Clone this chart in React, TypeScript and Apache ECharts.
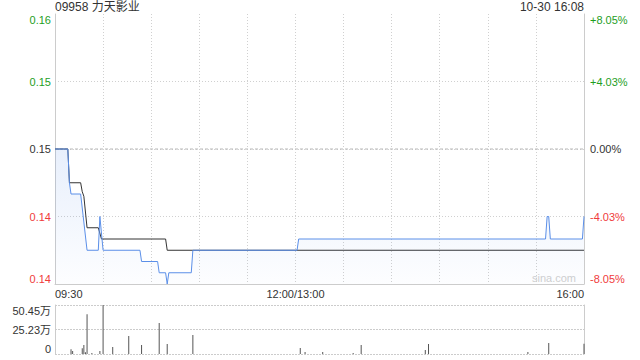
import React, { useEffect, useRef } from "react";
import * as echarts from "echarts";

const titleText = "09958 力天影业";
const stampText = "10-30 16:08";
const watermark = "sina.com";
const prevClose = 0.149;
const priceMin = 0.137;
const priceMax = 0.161;
const priceStep = 0.006;

const priceTimes = ["09:30", "09:38", "09:39", "09:40", "09:46", "09:50", "09:57", "09:58", "10:00", "10:23", "10:24", "10:34", "10:35", "10:39", "10:40", "10:41", "10:55", "10:56", "13:01", "13:02", "15:36", "15:37", "15:38", "15:39", "15:59", "16:00"];
const priceValues = [0.149, 0.149, 0.146, 0.145, 0.145, 0.14, 0.14, 0.143, 0.14, 0.14, 0.139, 0.139, 0.138, 0.138, 0.137, 0.138, 0.138, 0.14, 0.14, 0.141, 0.141, 0.143, 0.143, 0.141, 0.141, 0.143];

const avgTimes = ["09:30", "09:38", "09:39", "09:46", "09:47", "09:48", "09:50", "09:57", "09:59", "10:39", "10:40", "16:00"];
const avgValues = [0.149, 0.149, 0.146, 0.146, 0.1452, 0.1448, 0.142, 0.142, 0.141, 0.141, 0.14, 0.14];

const volTimes = ["09:40", "09:41", "09:47", "09:48", "09:49", "09:50", "09:53", "09:58", "10:00", "10:06", "10:16", "10:24", "10:35", "10:40", "10:56", "13:03", "13:06", "13:17", "13:36", "13:41", "14:21", "14:23", "15:25", "15:38", "16:00"];
const volValues = [5.0, 3.0, 6.0, 9.3, 1.7, 41.0, 1.0, 3.0, 50.45, 7.2, 18.5, 9.3, 32.0, 10.3, 19.6, 6.2, 2.0, 2.0, 1.0, 9.3, 4.0, 10.3, 2.0, 11.3, 10.6];
const volMax = 50.45;

const priceTickLabels = ["0.14", "0.14", "0.15", "0.15", "0.16"];
const pctTickLabels = ["-8.05%", "-4.03%", "0.00%", "+4.03%", "+8.05%"];
const volTickLabels = ["0", "25.23万", "50.45万"];
const xLabelTimes = ["09:30", "12:00", "16:00"];
const xLabelTexts = ["09:30", "12:00/13:00", "16:00"];

const FONT = "'Liberation Sans', Arial, 'Noto Sans CJK SC', sans-serif";
const GREEN = "#1e9e1e";
const RED = "#f03b3b";
const DARK = "#333333";

function toMinute(t: string): number {
  const [h, m] = t.split(":").map(Number);
  const total = h * 60 + m;
  if (total <= 12 * 60) return total - (9 * 60 + 30);
  return total - 13 * 60 + 150;
}

function priceIdx(v: number): number {
  return Math.round((Number(v) - priceMin) / priceStep);
}
function tickColor(i: number): string {
  return i < 2 ? RED : i === 2 ? DARK : GREEN;
}

export default function App() {
  const ref = useRef<HTMLDivElement>(null);
  useEffect(() => {
    if (!ref.current) return;
    const chart = echarts.init(ref.current, undefined, { renderer: "svg" });
    const xMax = toMinute("16:00");
    const option: any = {
      animation: false,
      backgroundColor: "#ffffff",
      textStyle: { fontFamily: FONT },
      grid: [
        { left: 55, right: 56, top: 14, height: 270 },
        { left: 55, right: 56, top: 305, height: 49 },
      ],
      xAxis: [
        {
          type: "value",
          gridIndex: 0,
          min: 0,
          max: xMax,
          interval: 30,
          axisLine: { show: true, lineStyle: { color: "#cccccc", width: 1 } },
          axisTick: { show: false },
          splitLine: {
            show: true,
            showMinLine: false,
            showMaxLine: false,
            lineStyle: { color: "#d0d0d0", type: [1, 2], width: 1 },
          },
          axisLabel: {
            show: true,
            margin: 4,
            color: DARK,
            fontSize: 11,
            fontFamily: FONT,
            alignMinLabel: "left",
            alignMaxLabel: "right",
            formatter: (v: number) => {
              const k = xLabelTimes.findIndex((t) => toMinute(t) === Math.round(v));
              return k >= 0 ? xLabelTexts[k] : "";
            },
          },
        },
        {
          type: "value",
          gridIndex: 1,
          min: 0,
          max: xMax,
          interval: 30,
          axisLine: { show: false },
          axisTick: { show: false },
          splitLine: { show: false },
          axisLabel: { show: false },
        },
      ],
      yAxis: [
        {
          type: "value",
          gridIndex: 0,
          position: "left",
          min: priceMin,
          max: priceMax,
          interval: priceStep,
          axisLine: { show: true, lineStyle: { color: "#cccccc", width: 1 } },
          axisTick: { show: false },
          splitLine: {
            show: true,
            showMinLine: false,
            showMaxLine: false,
            lineStyle: { color: "#d0d0d0", type: [1, 2], width: 1 },
          },
          axisLabel: {
            margin: 4,
            fontSize: 11,
            fontFamily: FONT,
            verticalAlignMinLabel: "bottom",
            verticalAlignMaxLabel: "top",
            color: (v: number) => tickColor(priceIdx(v)),
            formatter: (v: number) => priceTickLabels[priceIdx(v)] ?? "",
          },
        },
        {
          type: "value",
          gridIndex: 0,
          position: "right",
          min: priceMin,
          max: priceMax,
          interval: priceStep,
          axisLine: { show: true, lineStyle: { color: "#cccccc", width: 1 } },
          axisTick: { show: false },
          splitLine: { show: false },
          axisLabel: {
            margin: 6,
            fontSize: 11,
            fontFamily: FONT,
            verticalAlignMinLabel: "bottom",
            verticalAlignMaxLabel: "top",
            color: (v: number) => tickColor(priceIdx(v)),
            formatter: (v: number) => pctTickLabels[priceIdx(v)] ?? "",
          },
        },
        {
          type: "value",
          gridIndex: 1,
          position: "left",
          min: 0,
          max: volMax,
          interval: volMax / 2,
          axisLine: { show: true, lineStyle: { color: "#cccccc", width: 1 } },
          axisTick: { show: false },
          splitLine: {
            show: true,
            lineStyle: { color: "#cccccc", type: [2, 1], width: 1 },
          },
          axisLabel: {
            margin: 4,
            fontSize: 11,
            fontFamily: FONT,
            color: DARK,
            verticalAlignMinLabel: "bottom",
            verticalAlignMaxLabel: "top",
            formatter: (v: number) => volTickLabels[Math.round(v / (volMax / 2))] ?? "",
          },
        },
        {
          type: "value",
          gridIndex: 1,
          position: "right",
          min: 0,
          max: volMax,
          interval: volMax / 2,
          axisLine: { show: true, lineStyle: { color: "#cccccc", width: 1 } },
          axisTick: { show: false },
          splitLine: { show: false },
          axisLabel: { show: false },
        },
      ],
      series: [
        {
          name: "昨收",
          type: "line",
          xAxisIndex: 0,
          yAxisIndex: 0,
          data: [
            [0, prevClose],
            [xMax, prevClose],
          ],
          symbol: "none",
          silent: true,
          lineStyle: { color: "#b8b8b8", type: [3, 2], width: 1 },
          z: 2,
        },
        {
          name: "均价",
          type: "line",
          xAxisIndex: 0,
          yAxisIndex: 0,
          data: avgTimes.map((t, i) => [toMinute(t), avgValues[i]]),
          symbol: "none",
          lineStyle: { color: "#333333", width: 1 },
          z: 3,
        },
        {
          name: "价格",
          type: "line",
          xAxisIndex: 0,
          yAxisIndex: 0,
          data: priceTimes.map((t, i) => [toMinute(t), priceValues[i]]),
          symbol: "none",
          lineStyle: { color: "#5b8fe8", width: 1 },
          areaStyle: {
            origin: "start",
            color: new echarts.graphic.LinearGradient(0, 0, 0, 1, [
              { offset: 0, color: "rgba(91,143,232,0.20)" },
              { offset: 1, color: "rgba(91,143,232,0.02)" },
            ]),
          },
          z: 4,
        },
        {
          name: "成交量",
          type: "bar",
          xAxisIndex: 1,
          yAxisIndex: 2,
          data: volTimes.map((t, i) => [toMinute(t), volValues[i]]),
          barWidth: 1,
          itemStyle: { color: "#555555" },
        },
      ],
      graphic: [
        {
          type: "text",
          left: 55,
          top: 1,
          style: { text: titleText, fill: DARK, font: `12px ${FONT}` },
        },
        {
          type: "text",
          right: 56,
          top: 1,
          style: { text: stampText, fill: DARK, font: `12px ${FONT}` },
        },
        {
          type: "text",
          left: 532,
          top: 272,
          style: { text: watermark, fill: "#cfcfcf", font: `11px ${FONT}` },
        },
      ],
    };
    chart.setOption(option);
    return () => chart.dispose();
  }, []);
  return (
    <div
      ref={ref}
      style={{ position: "fixed", left: 0, top: 0, width: 640, height: 360, background: "#fff" }}
    />
  );
}
